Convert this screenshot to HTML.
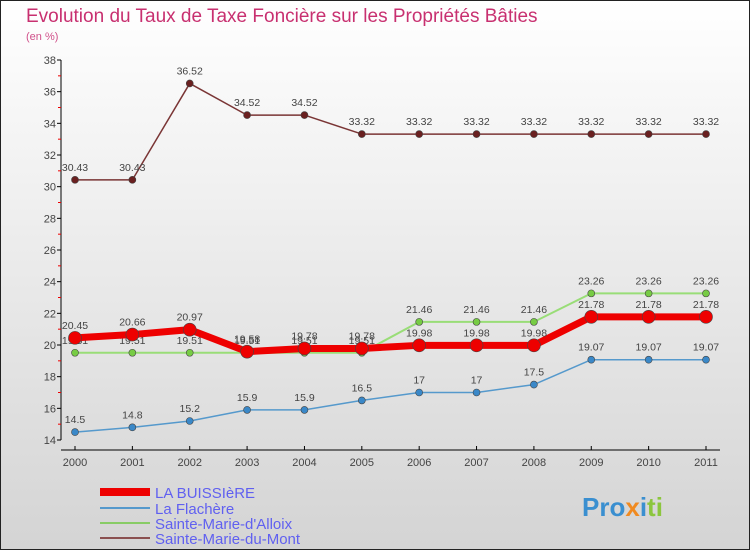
<!DOCTYPE html>
<html><head><meta charset="utf-8"><style>
body{margin:0;width:750px;height:550px;overflow:hidden}
svg{display:block;font-family:"Liberation Sans",sans-serif}
</style></head><body>
<svg id="c" width="750" height="550" xmlns="http://www.w3.org/2000/svg">
<defs><linearGradient id="bg" x1="0" y1="0" x2="0" y2="1"><stop offset="0" stop-color="#ffffff"/><stop offset="1" stop-color="#d4d4d4"/></linearGradient></defs>
<rect x="0.5" y="0.5" width="749" height="549" fill="url(#bg)" stroke="#222"/>
<text x="26" y="22" font-size="19" fill="#c83070">Evolution du Taux de Taxe Foncière sur les Propriétés Bâties</text>
<text x="26" y="40" font-size="11" fill="#d0508a">(en %)</text>
<g id="axes"></g><g id="series"></g>
<g font-size="15" fill="#6060f0">
<line x1="100" y1="492" x2="150" y2="492" stroke="#e00" stroke-width="8"/>
<text x="155" y="498">LA BUISSIèRE</text>
<line x1="100" y1="508" x2="150" y2="508" stroke="#5599cc" stroke-width="2"/>
<text x="155" y="514">La Flachère</text>
<line x1="100" y1="523" x2="150" y2="523" stroke="#88cc66" stroke-width="2"/>
<text x="155" y="529">Sainte-Marie-d'Alloix</text>
<line x1="100" y1="538" x2="150" y2="538" stroke="#8a5050" stroke-width="2"/>
<text x="155" y="544">Sainte-Marie-du-Mont</text>
</g>
<text x="582" y="516" font-size="26" font-weight="bold"><tspan fill="#3a8fd0">Pro</tspan><tspan fill="#f08a20">x</tspan><tspan fill="#3a8fd0">i</tspan><tspan fill="#8cc63e">ti</tspan></text>
</svg>
<script>
const years=["2000","2001","2002","2003","2004","2005","2006","2007","2008","2009","2010","2011"];
const yTicks=[14,16,18,20,22,24,26,28,30,32,34,36,38];
const buissiere=[20.45,20.66,20.97,19.58,19.78,19.78,19.98,19.98,19.98,21.78,21.78,21.78];
const flachere=[14.5,14.8,15.2,15.9,15.9,16.5,17,17,17.5,19.07,19.07,19.07];
const alloix=[19.51,19.51,19.51,19.51,19.51,19.51,21.46,21.46,21.46,23.26,23.26,23.26];
const mont=[30.43,30.43,36.52,34.52,34.52,33.32,33.32,33.32,33.32,33.32,33.32,33.32];
const NS="http://www.w3.org/2000/svg";
const X=i=>75+i*(706-75)/(years.length-1);
const Y=v=>440-(v-14)*(380/24);
function mk(t,a,p){const e=document.createElementNS(NS,t);for(const k in a)e.setAttribute(k,a[k]);p.appendChild(e);return e;}
const ax=document.getElementById('axes');
let l=mk('line',{x1:61,y1:60,x2:61,y2:440,stroke:'#000'},ax);


l=mk('line',{x1:61,y1:450,x2:720,y2:450,stroke:'#000'},ax);


yTicks.forEach((v,i)=>{
 mk('line',{x1:57,y1:Y(v),x2:61,y2:Y(v),stroke:'#000'},ax);
 if(i<yTicks.length-1) mk('line',{x1:58,y1:Y(v+1),x2:61,y2:Y(v+1),stroke:'#e00'},ax);
 const t=mk('text',{x:56,y:Y(v)+4,'font-size':11,'text-anchor':'end',fill:'#444'},ax);t.textContent=v;
 
 
});
years.forEach((y,i)=>{
 mk('line',{x1:X(i),y1:446,x2:X(i),y2:450,stroke:'#000'},ax);
 const t=mk('text',{x:X(i),y:466,'font-size':11,'text-anchor':'middle',fill:'#444'},ax);t.textContent=y;
 
 
});
const sg=document.getElementById('series');
function draw(data,name,color,w,r,dot){
 const g=mk('g',{},sg);
 
 
 const p=mk('polyline',{points:data.map((v,i)=>X(i)+','+Y(v)).join(' '),fill:'none',stroke:color,'stroke-width':w,'stroke-linejoin':'round'},g);
 
 
 data.forEach((v,i)=>{
  const c=mk('circle',{cx:X(i),cy:Y(v),r:r,fill:dot,stroke:'#444','stroke-width':0.6},g);
  
  
  const t=mk('text',{x:X(i),y:Y(v)-9,'font-size':10.5,'text-anchor':'middle',fill:'#444'},g);t.textContent=v;
  
  
 });
}
draw(mont,'sainte-marie-du-mont','#7a3535',1.5,3.5,'#6a2020');
draw(flachere,'la-flachere','#5599cc',1.5,3.5,'#3a88c8');
draw(alloix,'sainte-marie-dalloix','#99dd77',2,3.5,'#77cc44');
draw(buissiere,'la-buissiere','#ee0000',7,6.5,'#ee0000');
</script>
</body></html>
